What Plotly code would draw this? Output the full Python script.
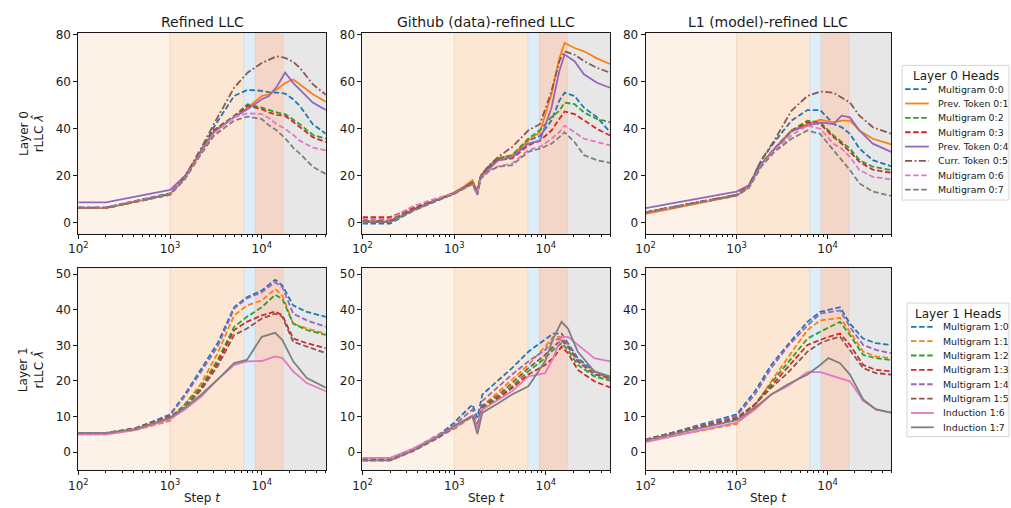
import numpy as np
import plotly.graph_objects as go

# ---------------------------------------------------------------- labels
HEADS_L0 = ["Multigram 0:0", "Prev. Token 0:1", "Multigram 0:2", "Multigram 0:3",
            "Prev. Token 0:4", "Curr. Token 0:5", "Multigram 0:6", "Multigram 0:7"]
HEADS_L1 = ["Multigram 1:0", "Multigram 1:1", "Multigram 1:2", "Multigram 1:3",
            "Multigram 1:4", "Multigram 1:5", "Induction 1:6", "Induction 1:7"]
PANEL_TITLES = ["Refined LLC", "Github (data)-refined LLC", "L1 (model)-refined LLC"]
LEGEND_TITLES = ["Layer 0 Heads", "Layer 1 Heads"]

COLORS = ["#1f77b4", "#ff7f0e", "#2ca02c", "#d62728",
          "#9467bd", "#8c564b", "#e377c2", "#7f7f7f"]
DASH_L0 = ["dash", "solid", "dash", "dash", "solid", "dashdot", "dash", "dash"]
DASH_L1 = ["dash"] * 6 + ["solid"] * 2

# developmental stage boundaries (training steps)
STAGE_EDGES = [100, 1000, 6400, 8500, 17200, 50000]
STAGE_COLORS = ["rgba(253,240,228,0.85)", "rgba(252,226,205,0.85)",
                "rgba(222,235,245,0.95)", "rgba(243,210,195,0.9)",
                "rgba(229,229,229,0.92)"]
STAGE_EDGE_COLORS = ["rgba(240,215,195,0.6)", "rgba(240,205,180,0.6)",
                     "rgba(200,220,235,0.6)", "rgba(225,190,175,0.6)",
                     "rgba(210,210,210,0.6)"]

# ---------------------------------------------------------------- layer 0
STEPS_L0_REFINED = [100, 200, 1000, 1450, 2200, 3000, 5000, 7000, 10000, 12000,
                    14600, 18000, 22000, 26000, 36000, 50000]
L0_REFINED = [
    [6.6, 6.6, 12.6, 19.6, 31.0, 40.7, 54.0, 56.6, 56.2, 55.6, 55.4, 55.0, 52.6, 49.8, 42.0, 37.9],
    [6.3, 6.3, 12.2, 19.0, 30.5, 39.0, 45.0, 49.0, 54.0, 54.7, 56.8, 59.5, 61.0, 59.0, 54.7, 51.6],
    [6.4, 6.4, 12.2, 19.3, 31.0, 39.5, 45.5, 50.5, 49.0, 48.0, 47.0, 46.3, 44.0, 42.0, 37.5, 35.8],
    [6.3, 6.3, 12.0, 19.0, 30.5, 39.0, 45.0, 49.8, 48.4, 47.0, 46.0, 45.5, 43.0, 40.7, 36.5, 34.4],
    [8.7, 8.7, 14.0, 20.0, 30.5, 38.5, 45.0, 48.4, 52.6, 54.0, 58.0, 63.9, 59.6, 56.8, 51.2, 48.0],
    [6.5, 6.5, 12.3, 19.6, 32.0, 42.0, 57.5, 63.9, 68.0, 69.5, 70.9, 70.2, 68.5, 66.0, 59.0, 54.5],
    [6.5, 6.5, 12.2, 19.0, 30.0, 38.0, 45.0, 46.6, 46.3, 44.5, 42.0, 40.0, 37.5, 35.0, 32.0, 30.9],
    [6.4, 6.4, 12.0, 18.5, 29.5, 37.0, 43.5, 45.2, 44.2, 41.5, 39.3, 36.0, 32.0, 29.5, 23.9, 20.8],
]

STEPS_L0_GITHUB = [100, 200, 350, 640, 1000, 1230, 1580, 1790, 1940, 2400, 3000, 4300,
                   6400, 8600, 11500, 14000, 16000, 20500, 26000, 36000, 50000]
L0_GITHUB = [
    [-0.3, -0.3, 5.0, 9.5, 12.5, 14.5, 17.0, 13.0, 19.5, 23.5, 27.0, 28.0, 35.0, 37.0, 43.5, 52.0, 55.4, 54.0, 49.0, 45.0, 38.6],
    [0.6, 0.6, 5.5, 10.0, 13.0, 15.0, 18.2, 13.3, 20.0, 24.0, 27.5, 28.8, 35.1, 38.6, 54.7, 70.0, 76.5, 74.4, 73.0, 70.0, 67.6],
    [1.4, 1.4, 5.8, 10.0, 12.8, 14.7, 17.3, 13.3, 19.8, 24.0, 27.5, 28.8, 35.8, 39.5, 45.0, 47.7, 51.2, 50.5, 47.0, 44.2, 42.8],
    [2.5, 2.5, 6.2, 10.0, 12.6, 14.5, 17.0, 13.2, 19.5, 23.5, 26.8, 27.4, 33.0, 35.0, 39.3, 44.2, 47.4, 46.3, 43.5, 40.0, 37.2],
    [0.3, 0.3, 5.2, 9.6, 12.4, 14.3, 16.8, 12.0, 19.3, 23.0, 26.5, 28.0, 33.7, 35.0, 49.0, 64.6, 71.6, 68.8, 63.2, 59.6, 57.5],
    [0.8, 0.8, 5.6, 9.8, 12.6, 14.7, 17.3, 13.0, 20.0, 24.5, 28.0, 32.3, 39.3, 42.0, 56.0, 68.8, 73.0, 71.6, 68.8, 66.0, 63.9],
    [1.7, 1.7, 7.0, 10.5, 12.5, 14.3, 16.5, 12.5, 19.0, 22.5, 24.0, 25.3, 30.9, 32.3, 35.8, 38.6, 41.4, 38.6, 35.8, 34.4, 33.0],
    [0.3, 0.3, 5.0, 9.5, 12.3, 14.2, 16.6, 11.9, 18.8, 22.0, 23.9, 24.6, 30.2, 31.6, 33.7, 36.5, 38.6, 34.4, 28.8, 26.7, 25.5],
]

STEPS_L0_L1REF = [100, 1000, 1360, 1870, 2600, 4000, 6000, 8300, 11600, 14300,
                  17600, 22400, 31400, 50000]
L0_L1REF = [
    [4.5, 11.9, 15.8, 26.7, 34.4, 43.5, 48.0, 48.0, 42.1, 40.7, 37.9, 31.6, 26.7, 24.1],
    [3.8, 11.6, 15.2, 25.0, 31.6, 39.3, 42.0, 43.9, 42.8, 43.5, 43.5, 39.3, 35.8, 33.4],
    [4.5, 11.9, 15.4, 25.3, 31.6, 39.3, 43.5, 42.8, 37.2, 34.4, 31.6, 26.7, 23.9, 22.5],
    [4.3, 11.8, 15.3, 25.0, 31.3, 38.8, 42.8, 42.1, 36.5, 33.7, 30.2, 26.0, 22.7, 21.3],
    [6.3, 13.3, 16.0, 25.0, 31.3, 39.0, 41.4, 42.8, 42.1, 45.6, 44.9, 39.3, 33.7, 30.2],
    [4.6, 12.0, 15.8, 26.7, 35.1, 47.7, 54.0, 55.9, 55.4, 53.3, 51.2, 45.6, 40.7, 37.9],
    [4.3, 11.7, 15.0, 24.5, 30.9, 37.2, 41.4, 40.0, 33.7, 31.6, 28.0, 22.5, 19.6, 18.5],
    [4.4, 11.6, 14.8, 24.0, 30.2, 35.8, 39.3, 37.9, 30.9, 26.7, 22.5, 16.8, 13.3, 11.5],
]

# ---------------------------------------------------------------- layer 1
STEPS_L1_REFINED = [100, 200, 420, 1000, 1450, 2200, 3300, 5000, 6900, 10000,
                    14000, 16800, 22000, 31000, 50000]
L1_REFINED = [
    [5.2, 5.2, 6.6, 10.6, 16.2, 23.6, 30.6, 40.7, 43.5, 45.4, 48.4, 46.8, 41.2, 39.4, 38.0],
    [5.0, 5.0, 6.2, 8.8, 13.4, 19.4, 27.8, 38.4, 41.2, 42.6, 45.8, 44.0, 36.1, 34.7, 33.3],
    [5.2, 5.2, 6.4, 9.5, 13.4, 18.5, 25.9, 35.2, 38.0, 40.7, 44.2, 43.0, 36.1, 34.3, 32.9],
    [5.2, 5.2, 6.5, 9.7, 12.5, 18.0, 25.0, 34.3, 36.6, 38.4, 39.5, 38.4, 31.9, 30.6, 29.2],
    [5.3, 5.3, 6.7, 10.4, 15.7, 22.7, 29.6, 40.3, 43.2, 44.9, 47.7, 46.3, 38.9, 37.0, 35.2],
    [5.4, 5.4, 6.8, 10.2, 12.5, 17.6, 24.1, 32.9, 34.7, 37.5, 38.9, 38.0, 31.0, 29.6, 27.8],
    [5.0, 5.0, 6.2, 9.3, 12.0, 15.7, 20.4, 24.5, 25.5, 25.6, 26.9, 26.4, 22.7, 19.4, 17.1],
    [5.4, 5.4, 6.5, 9.7, 12.5, 16.2, 20.4, 25.0, 25.9, 32.4, 33.5, 31.5, 25.5, 20.8, 18.1],
]

STEPS_L1_GITHUB = [100, 200, 355, 635, 1000, 1580, 1790, 2030, 3090, 4270, 6440,
                   9800, 12000, 14800, 17400, 22300, 33700, 50000]
L1_GITHUB = [
    [-2.3, -2.3, 0.6, 4.2, 8.3, 13.4, 9.7, 16.2, 20.4, 23.6, 28.2, 31.5, 33.3, 33.3, 30.6, 26.4, 22.7, 20.8],
    [-2.0, -2.0, 0.6, 4.2, 6.5, 10.2, 6.9, 13.0, 17.1, 20.4, 24.5, 29.6, 32.4, 32.4, 30.1, 25.5, 22.3, 20.4],
    [-2.0, -2.0, 0.5, 4.0, 6.9, 10.2, 6.9, 12.5, 15.7, 18.5, 22.7, 26.4, 28.7, 30.6, 28.7, 24.5, 21.3, 20.1],
    [-2.3, -2.3, 0.3, 3.7, 6.9, 10.0, 6.7, 12.0, 15.3, 18.0, 21.8, 24.5, 26.4, 29.6, 27.8, 23.1, 19.9, 18.2],
    [-2.0, -2.0, 0.8, 4.6, 7.6, 12.0, 8.0, 14.4, 18.5, 21.8, 25.5, 28.7, 31.5, 31.9, 30.1, 26.0, 22.5, 20.8],
    [-2.0, -2.0, 0.6, 4.2, 6.9, 10.2, 6.9, 13.0, 16.2, 19.4, 23.6, 27.3, 29.6, 31.5, 29.6, 25.5, 21.8, 20.8],
    [-1.6, -1.6, 1.0, 4.4, 6.9, 10.2, 6.5, 12.0, 14.8, 17.1, 21.3, 22.2, 26.4, 32.4, 32.4, 30.1, 26.4, 25.5],
    [-2.3, -2.3, 0.4, 4.0, 7.4, 10.2, 5.1, 11.1, 13.9, 16.2, 18.5, 25.5, 31.9, 36.6, 34.7, 28.2, 22.7, 21.3],
]

STEPS_L1_L1REF = [100, 1000, 1590, 2400, 3630, 6000, 8300, 10200, 13700, 17600,
                  24600, 34000, 50000]
L1_L1REF = [
    [3.4, 10.6, 17.1, 24.5, 30.1, 36.6, 39.4, 40.0, 40.7, 36.1, 31.9, 30.6, 30.1],
    [3.2, 7.9, 13.0, 19.9, 26.4, 34.3, 37.0, 37.3, 37.7, 33.8, 28.2, 26.9, 26.4],
    [3.4, 9.3, 13.4, 19.4, 25.0, 31.9, 33.8, 35.0, 36.6, 32.9, 27.3, 26.4, 25.9],
    [3.4, 9.3, 13.4, 18.5, 23.6, 30.1, 31.5, 32.4, 33.3, 30.1, 24.5, 23.1, 22.7],
    [3.5, 10.2, 16.2, 23.6, 29.6, 35.6, 38.9, 39.3, 39.8, 35.2, 30.1, 28.7, 27.8],
    [3.6, 9.7, 13.4, 18.1, 22.2, 28.2, 30.6, 31.5, 32.4, 28.7, 23.6, 22.2, 21.8],
    [2.8, 8.3, 12.0, 16.2, 18.5, 22.5, 22.5, 21.8, 20.8, 19.9, 14.4, 12.0, 11.1],
    [3.4, 9.0, 12.5, 16.2, 19.0, 21.8, 24.5, 26.4, 25.0, 21.8, 14.8, 12.0, 11.1],
]

Y_RANGES = [[-4.6, 80.9], [-5.1, 51.6]]
Y_DTICK = [20, 10]

# ---------------------------------------------------------------- layout geometry (pixels)
W, H = 1011, 508
COL_PX = [(69, 319), (356, 606), (642, 890)]
ROW_PX = [(28, 231), (266, 470)]
# legend boxes: left, top, right, bottom, sample start, sample end, text start
LEGEND_PX = [(901, 61, 1009, 197, 904, 928, 935),
             (906, 301, 1009, 436, 910, 933, 940)]
LEGEND_ROW_GAP = 14.5

FONT = "DejaVu Sans"
INK = "#1a1a1a"

panels = [
    [(STEPS_L0_REFINED, L0_REFINED), (STEPS_L0_GITHUB, L0_GITHUB), (STEPS_L0_L1REF, L0_L1REF)],
    [(STEPS_L1_REFINED, L1_REFINED), (STEPS_L1_GITHUB, L1_GITHUB), (STEPS_L1_L1REF, L1_L1REF)],
]


def dash_pattern(style):
    if style == "dash":
        return "5.5px,2.6px"
    if style == "dashdot":
        return "7px,2.5px,1.8px,2.5px"
    return "solid"


def px_x(x):
    return x / W


def px_y(y):
    return 1 - y / H


fig = go.Figure()
layout = {}
shapes = []
annotations = []

minor_vals = [m * 10 ** e for e in (2, 3, 4) for m in range(2, 10) if m * 10 ** e <= 50000]

for r in range(2):
    heads = HEADS_L0 if r == 0 else HEADS_L1
    dashes = DASH_L0 if r == 0 else DASH_L1
    for c in range(3):
        idx = r * 3 + c + 1
        xname = "x" if idx == 1 else f"x{idx}"
        yname = "y" if idx == 1 else f"y{idx}"
        steps, series = panels[r][c]
        for k, vals in enumerate(series):
            fig.add_trace(go.Scatter(
                x=steps, y=vals, mode="lines", name=heads[k],
                line=dict(color=COLORS[k], width=1.8, dash=dash_pattern(dashes[k])),
                xaxis=xname, yaxis=yname, showlegend=False, hoverinfo="skip",
            ))

        x0p, x1p = COL_PX[c]
        y0p, y1p = ROW_PX[r]
        xdom = [px_x(x0p), px_x(x1p)]
        ydom = [px_y(y1p), px_y(y0p)]
        xkey = "xaxis" if idx == 1 else f"xaxis{idx}"
        ykey = "yaxis" if idx == 1 else f"yaxis{idx}"
        layout[xkey] = dict(
            type="log", domain=xdom, anchor=yname, range=[2, np.log10(50000)],
            tickmode="array", tickvals=[100, 1000, 10000],
            ticktext=["10<sup>2</sup>", "10<sup>3</sup>", "10<sup>4</sup>"],
            ticks="outside", ticklen=4, tickwidth=1, tickcolor=INK,
            minor=dict(tickmode="array", tickvals=minor_vals, ticks="outside",
                       ticklen=2, tickwidth=0.8, tickcolor=INK),
            showline=True, linecolor=INK, linewidth=1, mirror=True,
            showgrid=False, zeroline=False,
            tickfont=dict(family=FONT, size=12, color=INK),
        )
        layout[ykey] = dict(
            domain=ydom, anchor=xname, range=Y_RANGES[r],
            tickmode="linear", tick0=0, dtick=Y_DTICK[r],
            ticks="outside", ticklen=4, tickwidth=1, tickcolor=INK,
            showline=True, linecolor=INK, linewidth=1, mirror=True,
            showgrid=False, zeroline=False,
            tickfont=dict(family=FONT, size=12, color=INK),
        )

        # shaded developmental stages
        for s in range(len(STAGE_COLORS)):
            shapes.append(dict(
                type="rect", xref=xname, yref=f"{yname} domain",
                x0=STAGE_EDGES[s], x1=STAGE_EDGES[s + 1], y0=0, y1=1,
                fillcolor=STAGE_COLORS[s],
                line=dict(color=STAGE_EDGE_COLORS[s], width=0.8), layer="below",
            ))

        if r == 0:
            annotations.append(dict(
                text=PANEL_TITLES[c], xref="paper", yref="paper",
                x=(xdom[0] + xdom[1]) / 2, y=px_y(17), showarrow=False,
                xanchor="center", yanchor="middle",
                font=dict(family=FONT, size=14, color=INK),
            ))
        else:
            annotations.append(dict(
                text="Step <i>t</i>", xref="paper", yref="paper",
                x=(xdom[0] + xdom[1]) / 2, y=px_y(498), showarrow=False,
                xanchor="center", yanchor="middle",
                font=dict(family=FONT, size=12, color=INK),
            ))

    annotations.append(dict(
        text=f"Layer {r}<br>rLLC <i>λ̂</i>", xref="paper", yref="paper",
        x=px_x(22), y=px_y(sum(ROW_PX[r]) / 2), showarrow=False, textangle=-90,
        xanchor="center", yanchor="middle",
        font=dict(family=FONT, size=12, color=INK),
    ))

    # legend box for this layer
    lx0, ly0, lx1, ly1, sx0, sx1, tx = LEGEND_PX[r]
    shapes.append(dict(
        type="rect", xref="paper", yref="paper",
        x0=px_x(lx0), x1=px_x(lx1), y0=px_y(ly1), y1=px_y(ly0),
        fillcolor="white", line=dict(color="#d4d4d4", width=1), layer="above",
    ))
    annotations.append(dict(
        text=LEGEND_TITLES[r], xref="paper", yref="paper",
        x=px_x((lx0 + lx1) / 2), y=px_y(ly0 + 11), showarrow=False,
        xanchor="center", yanchor="middle",
        font=dict(family=FONT, size=12, color=INK),
    ))
    for k, head in enumerate(heads):
        yk = ly0 + 24 + LEGEND_ROW_GAP * k
        shapes.append(dict(
            type="line", xref="paper", yref="paper",
            x0=px_x(sx0), x1=px_x(sx1), y0=px_y(yk), y1=px_y(yk),
            line=dict(color=COLORS[k], width=1.8, dash=dash_pattern(dashes[k])),
            layer="above",
        ))
        annotations.append(dict(
            text=head, xref="paper", yref="paper",
            x=px_x(tx), y=px_y(yk), showarrow=False,
            xanchor="left", yanchor="middle",
            font=dict(family=FONT, size=9.4, color=INK),
        ))

fig.update_layout(
    width=W, height=H,
    margin=dict(l=0, r=0, t=0, b=0),
    plot_bgcolor="white", paper_bgcolor="white",
    showlegend=False,
    shapes=shapes, annotations=annotations,
    **layout,
)

fig.write_html("out.html")
